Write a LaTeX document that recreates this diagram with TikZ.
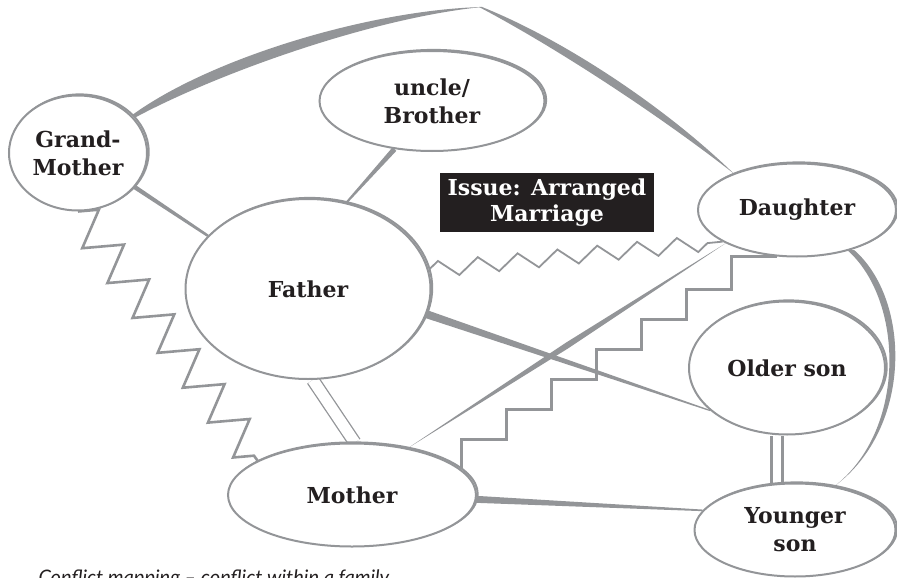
\documentclass[tikz,border=0pt]{standalone}
\usepackage{fontspec}
\newfontfamily\labelfont{DejaVu Serif}
\newfontfamily\captionfont{Lato}
\usetikzlibrary{shapes.geometric,calc,backgrounds,shadows,decorations.pathmorphing}

\definecolor{linegray}{RGB}{147,149,152}
\definecolor{inkblack}{RGB}{35,31,32}

% tie that is wide at #1 and narrow at #2
\newcommand{\taperline}[4]{%
  \fill[linegray] ($(#1)!#3!90:(#2)$) -- ($(#1)!#3!-90:(#2)$)
    -- ($(#2)!#4!90:(#1)$) -- ($(#2)!#4!-90:(#1)$) -- cycle;}
% tie that is thickest halfway
\newcommand{\lensline}[3]{%
  \fill[linegray] (#1) -- ($(#1)!0.5!(#2)!#3!90:(#2)$) -- (#2)
    -- ($(#1)!0.5!(#2)!#3!-90:(#2)$) -- cycle;}

\begin{document}
\begin{tikzpicture}[x=1pt, y=-1pt,
  person/.style={ellipse, draw=linegray, line width=2pt, fill=white,
    inner sep=2pt, align=center, text=inkblack,
    font=\labelfont\bfseries\fontsize{22}{28}\selectfont,
    general shadow={shadow xshift=1.7pt, shadow yshift=1.1pt,
      draw=linegray, line width=2pt, fill=white}},
  issue/.style={fill=inkblack, text=white, align=center, inner sep=0pt,
    font=\labelfont\bfseries\fontsize{22}{26}\selectfont,
    minimum width=214pt, minimum height=59pt},
  conflict/.style={draw=linegray, line width=2.6pt, decorate},
  pairtie/.style={draw=linegray, double=white}]

  \useasboundingbox (0,0) rectangle (897,578);
  \clip (0,0) rectangle (897,578);

  % People
  \node[person, minimum width=138pt, minimum height=115pt] (gm) at (78,153) {Grand-\\Mother};
  \node[person, minimum width=225pt, minimum height=100pt] (un) at (432,101) {uncle/\\Brother};
  \node[person, minimum width=245pt, minimum height=180pt] (fa) at (308,289) {Father};
  \node[person, minimum width=198pt, minimum height=93pt] (da) at (797,210) {Daughter};
  \node[person, minimum width=196pt, minimum height=133pt] (os) at (787,368) {Older son};
  \node[person, minimum width=248pt, minimum height=103pt] (mo) at (352,495) {Mother};
  \node[person, minimum width=201pt, minimum height=93pt] (ys) at (795,530) {Younger\\son};

  % The issue
  \node[issue] (issue) at (547,202.5) {Issue: Arranged\\Marriage};

  \node[anchor=base west, text=inkblack, font=\captionfont\itshape\fontsize{20}{24}\selectfont]
    (cap) at (35,584) {Conflict mapping – conflict within a family};

  \begin{scope}[on background layer]
    % Ties
    \taperline{gm.-31}{fa.152}{2.2pt}{1.3pt}
    \taperline{un.-128}{fa.66}{2.6pt}{1pt}
    \taperline{fa.-12}{os.209}{4pt}{0.6pt}
    \taperline{mo.-2}{ys.168}{3.5pt}{0.8pt}
    \lensline{mo.40}{da.205}{3pt}

    % Grandmother over the top to daughter
    \coordinate (top) at (482,7);
    \fill[linegray] (gm.35) .. controls (210,58) and (370,10) .. (top)
      .. controls (372,18) and (215,74) .. ([yshift=-4pt]gm.35) -- cycle;
    \fill[linegray] (top) .. controls (560,38) and (662,104) .. (da.150)
      .. controls (655,112) and (553,46) .. ([xshift=-3pt]top) -- cycle;

    % Daughter round to younger son
    \fill[linegray] ([xshift=-3pt]da.-37) .. controls (904,300) and (907,430) .. (ys.48)
      .. controls (913,428) and (911,300) .. ([xshift=4pt]da.-37) -- cycle;

    % Close pairs
    \draw[pairtie, line width=1.3pt, double distance=11pt] (fa.-87) -- (mo.87);
    \coordinate (pairtop) at ([xshift=-10pt]os.south);
    \draw[pairtie, line width=3pt, double distance=8pt] (pairtop) -- (pairtop |- ys.north);

    % Conflicts
    \draw[conflict, decoration={zigzag, segment length=43pt, amplitude=18pt}]
      (gm.-90) -- (mo.160);
    \draw[conflict, line width=1.8pt, decoration={zigzag, segment length=40pt, amplitude=8pt}]
      (fa.9) -- (da.203);
    \draw[draw=linegray, line width=2.6pt]
      (mo.13) \foreach \i in {1,...,6} { -- ++(0,-30) -- ++(45,0) } |- (da.-113);
  \end{scope}

\end{tikzpicture}
\end{document}
